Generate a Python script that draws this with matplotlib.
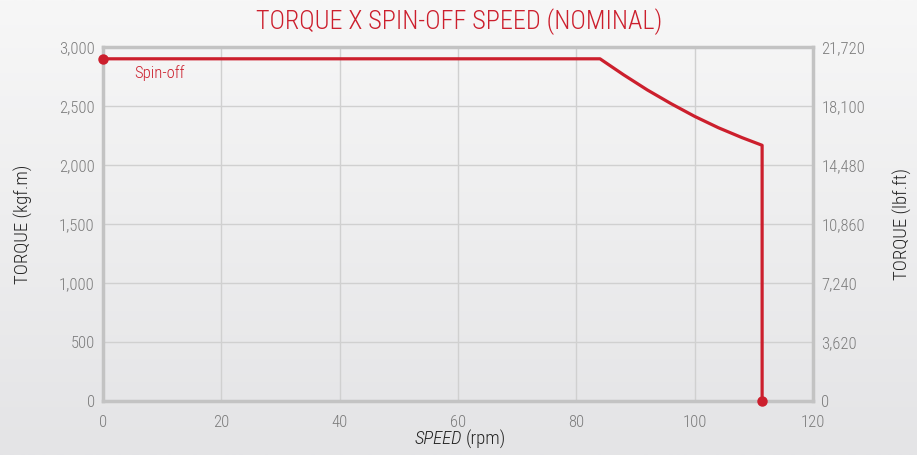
import matplotlib
matplotlib.use("Agg")
import matplotlib.pyplot as plt
import numpy as np
from matplotlib.colors import LinearSegmentedColormap

plt.rcParams['font.family'] = ['Roboto Condensed', 'Roboto', 'DejaVu Sans']

# Data
speed = [0, 84, 88, 92, 96, 100, 104, 108, 111.4, 111.4]
torque = [2900, 2900, 2764, 2636, 2520, 2412, 2316, 2232, 2167, 0]
left_ticks = [0, 500, 1000, 1500, 2000, 2500, 3000]
right_ticks = [0, 3620, 7240, 10860, 14480, 18100, 21720]
x_ticks = [0, 20, 40, 60, 80, 100, 120]
title = "TORQUE X SPIN-OFF SPEED (NOMINAL)"

RED = '#cc1f2d'
GRID = '#d0d0d0'
FRAME = '#c3c3c3'
TICK = '#7c7c7c'
LABEL = '#262626'
W = 'light'

fig = plt.figure(figsize=(9.17, 4.55), dpi=100)

# background gradient
bg = fig.add_axes([0, 0, 1, 1], zorder=-10)
cmap = LinearSegmentedColormap.from_list('bg', ['#f7f7f7', '#e4e4e6'])
grad = np.linspace(0, 1, 256).reshape(-1, 1)
bg.imshow(grad, aspect='auto', cmap=cmap, extent=[0, 1, 0, 1], origin='upper')
bg.axis('off')

ax = fig.add_axes([103/917, 1-401/455, (813-103)/917, (401-47)/455])
ax.patch.set_alpha(0)
ax.set_xlim(0, 120)
ax.set_ylim(0, 3000)
ax.set_xticks(x_ticks)
ax.set_yticks(left_ticks)
ax.set_yticklabels([f"{v:,}" for v in left_ticks], fontweight=W)
ax.set_xticklabels([str(v) for v in x_ticks], fontweight=W)
ax.grid(True, color=GRID, linewidth=1.0)
ax.set_axisbelow(True)
for s in ax.spines.values():
    s.set_color(FRAME)
    s.set_linewidth(2.5)
ax.tick_params(axis='both', length=0, labelsize=12, colors=TICK)
ax.tick_params(axis='y', pad=6)
ax.tick_params(axis='x', pad=10)
ax.set_ylabel("TORQUE (kgf.m)", fontsize=13.5, color=LABEL, labelpad=19, fontweight=W)

ax.plot(speed, torque, color=RED, linewidth=2.3, solid_joinstyle='round', clip_on=False, zorder=5)
ax.plot([speed[0], speed[-1]], [torque[0], torque[-1]], 'o', color=RED, markersize=6.5, clip_on=False, zorder=6)
ax.text(5.3, 2780, "Spin-off", color=RED, fontsize=12, va='center', ha='left', fontweight=W)

ax2 = ax.twinx()
ax2.set_ylim(0, 21720)
ax2.set_yticks(right_ticks)
ax2.set_yticklabels([f"{v:,}" for v in right_ticks], fontweight=W)
ax2.tick_params(axis='y', length=0, labelsize=12, colors=TICK, pad=6)
for s in ax2.spines.values():
    s.set_visible(False)
ax2.set_ylabel("TORQUE (lbf.ft)", fontsize=13.5, color=LABEL, labelpad=20, fontweight=W)

fig.text(459/917, 1-22/455, title, color=RED, fontsize=18.8, ha='center', va='center', fontweight=W)
fig.text(462/917, 1-439/455, "SPEED", fontstyle='italic', fontsize=13.5, color=LABEL, ha='right', va='center', fontweight=W)
fig.text(466/917, 1-439/455, "(rpm)", fontsize=13.5, color=LABEL, ha='left', va='center', fontweight=W)

fig.savefig('out.png', dpi=100)
